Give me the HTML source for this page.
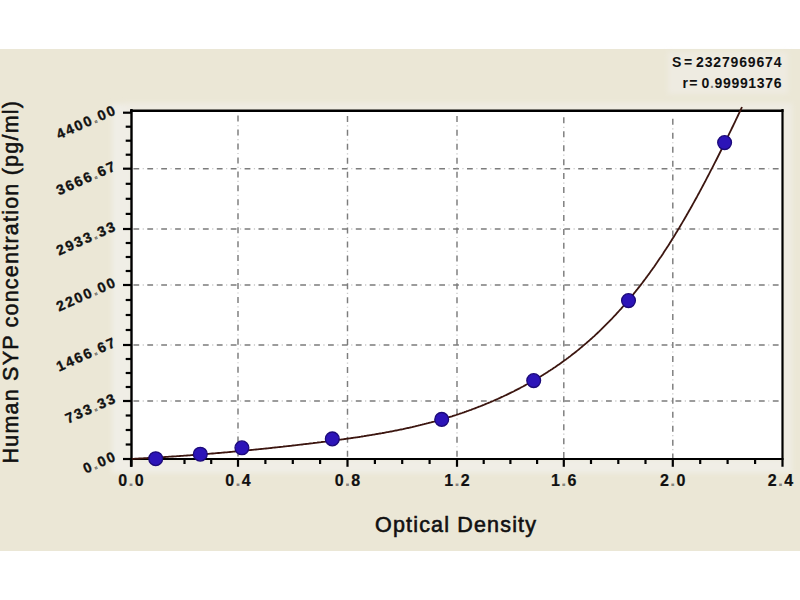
<!DOCTYPE html><html><head><meta charset="utf-8"><style>html,body{margin:0;padding:0;background:#fff;width:800px;height:600px;overflow:hidden}svg{display:block}text{font-family:"Liberation Sans",sans-serif}</style></head><body><svg width="800" height="600" viewBox="0 0 800 600"><rect x="0" y="49" width="800" height="502" fill="#EBE7D6"/><defs><filter id="sb" x="-20%" y="-20%" width="140%" height="140%"><feGaussianBlur stdDeviation="2.5"/></filter></defs><g filter="url(#sb)"><rect x="112" y="104" width="20" height="366" fill="#F0EEE6"/><rect x="112" y="459" width="680" height="14" fill="#F0EEE6"/><rect x="783" y="104" width="9" height="366" fill="#EFEDE4"/><rect x="124" y="103" width="668" height="8" fill="#EFECE3"/><rect x="668" y="52" width="120" height="42" fill="#EEEBE1"/></g><rect x="131" y="110" width="651.5" height="349" fill="#fff"/><g stroke="#7c7c7c" stroke-width="1.45" stroke-dasharray="5.8 8.1" fill="none"><line x1="133.4" y1="168.7" x2="781.5" y2="168.7"/><line x1="133.4" y1="229.0" x2="781.5" y2="229.0"/><line x1="133.4" y1="285.0" x2="781.5" y2="285.0"/><line x1="133.4" y1="345.0" x2="781.5" y2="345.0"/><line x1="133.4" y1="401.0" x2="781.5" y2="401.0"/></g><g stroke="#c8c8c8" stroke-width="1.3" stroke-dasharray="1.2 12.7" stroke-dashoffset="-9.25" fill="none"><line x1="133.4" y1="168.7" x2="781.5" y2="168.7"/><line x1="133.4" y1="229.0" x2="781.5" y2="229.0"/><line x1="133.4" y1="285.0" x2="781.5" y2="285.0"/><line x1="133.4" y1="345.0" x2="781.5" y2="345.0"/><line x1="133.4" y1="401.0" x2="781.5" y2="401.0"/></g><g stroke="#7c7c7c" stroke-width="1.45" stroke-dasharray="6.0 7.95" fill="none"><line x1="238" y1="115.6" x2="238" y2="459"/><line x1="347.5" y1="115.9" x2="347.5" y2="459"/><line x1="457" y1="115.9" x2="457" y2="459"/><line x1="563.8" y1="117.3" x2="563.8" y2="459"/><line x1="672.8" y1="118.8" x2="672.8" y2="459"/></g><g stroke="#c8c8c8" stroke-width="1.3" stroke-dasharray="1.2 12.75" stroke-dashoffset="-9.4" fill="none"><line x1="238" y1="115.6" x2="238" y2="459"/><line x1="347.5" y1="115.9" x2="347.5" y2="459"/><line x1="457" y1="115.9" x2="457" y2="459"/><line x1="563.8" y1="117.3" x2="563.8" y2="459"/><line x1="672.8" y1="118.8" x2="672.8" y2="459"/></g><g stroke="#000" stroke-width="2.2" fill="none"><line x1="131.5" y1="109" x2="131.5" y2="466.8" stroke-width="2.4"/><line x1="130" y1="110.7" x2="783.5" y2="110.7" stroke-width="2.4"/><line x1="782.5" y1="109" x2="782.5" y2="466.8"/><line x1="130" y1="459" x2="783.5" y2="459"/><line x1="123" y1="112.7" x2="131" y2="112.7"/><line x1="125.7" y1="126.7" x2="131" y2="126.7"/><line x1="125.7" y1="140.7" x2="131" y2="140.7"/><line x1="125.7" y1="154.7" x2="131" y2="154.7"/><line x1="123" y1="168.7" x2="131" y2="168.7"/><line x1="125.7" y1="183.8" x2="131" y2="183.8"/><line x1="125.7" y1="198.8" x2="131" y2="198.8"/><line x1="125.7" y1="213.9" x2="131" y2="213.9"/><line x1="123" y1="229.0" x2="131" y2="229.0"/><line x1="125.7" y1="243.0" x2="131" y2="243.0"/><line x1="125.7" y1="257.0" x2="131" y2="257.0"/><line x1="125.7" y1="271.0" x2="131" y2="271.0"/><line x1="123" y1="285.0" x2="131" y2="285.0"/><line x1="125.7" y1="300.0" x2="131" y2="300.0"/><line x1="125.7" y1="315.0" x2="131" y2="315.0"/><line x1="125.7" y1="330.0" x2="131" y2="330.0"/><line x1="123" y1="345.0" x2="131" y2="345.0"/><line x1="125.7" y1="359.0" x2="131" y2="359.0"/><line x1="125.7" y1="373.0" x2="131" y2="373.0"/><line x1="125.7" y1="387.0" x2="131" y2="387.0"/><line x1="123" y1="401.0" x2="131" y2="401.0"/><line x1="125.7" y1="415.5" x2="131" y2="415.5"/><line x1="125.7" y1="430.0" x2="131" y2="430.0"/><line x1="125.7" y1="444.5" x2="131" y2="444.5"/><line x1="123" y1="459.0" x2="131" y2="459.0"/><line x1="131.0" y1="459" x2="131.0" y2="466.8"/><line x1="157.8" y1="459" x2="157.8" y2="464"/><line x1="184.5" y1="459" x2="184.5" y2="464"/><line x1="211.2" y1="459" x2="211.2" y2="464"/><line x1="238.0" y1="459" x2="238.0" y2="466.8"/><line x1="265.4" y1="459" x2="265.4" y2="464"/><line x1="292.8" y1="459" x2="292.8" y2="464"/><line x1="320.1" y1="459" x2="320.1" y2="464"/><line x1="347.5" y1="459" x2="347.5" y2="466.8"/><line x1="374.9" y1="459" x2="374.9" y2="464"/><line x1="402.2" y1="459" x2="402.2" y2="464"/><line x1="429.6" y1="459" x2="429.6" y2="464"/><line x1="457.0" y1="459" x2="457.0" y2="466.8"/><line x1="483.7" y1="459" x2="483.7" y2="464"/><line x1="510.4" y1="459" x2="510.4" y2="464"/><line x1="537.1" y1="459" x2="537.1" y2="464"/><line x1="563.8" y1="459" x2="563.8" y2="466.8"/><line x1="591.0" y1="459" x2="591.0" y2="464"/><line x1="618.3" y1="459" x2="618.3" y2="464"/><line x1="645.5" y1="459" x2="645.5" y2="464"/><line x1="672.8" y1="459" x2="672.8" y2="466.8"/><line x1="700.2" y1="459" x2="700.2" y2="464"/><line x1="727.6" y1="459" x2="727.6" y2="464"/><line x1="755.1" y1="459" x2="755.1" y2="464"/></g><path d="M132.0,458.9 L133.0,458.8 L134.0,458.8 L135.0,458.7 L136.0,458.7 L137.0,458.6 L138.0,458.6 L139.0,458.5 L140.0,458.5 L141.0,458.4 L142.0,458.4 L143.0,458.3 L144.0,458.2 L145.0,458.2 L146.0,458.1 L147.0,458.1 L148.0,458.0 L149.0,458.0 L150.0,457.9 L151.0,457.9 L152.0,457.8 L153.0,457.7 L154.0,457.7 L155.0,457.6 L156.0,457.6 L157.0,457.5 L158.0,457.4 L159.0,457.4 L160.0,457.3 L161.0,457.2 L162.0,457.2 L163.0,457.1 L164.0,457.1 L165.0,457.0 L166.0,456.9 L167.0,456.9 L168.0,456.8 L169.0,456.7 L170.0,456.7 L171.0,456.6 L172.0,456.5 L173.0,456.5 L174.0,456.4 L175.0,456.3 L176.0,456.3 L177.0,456.2 L178.0,456.1 L179.0,456.1 L180.0,456.0 L181.0,455.9 L182.0,455.9 L183.0,455.8 L184.0,455.7 L185.0,455.6 L186.0,455.6 L187.0,455.5 L188.0,455.4 L189.0,455.3 L190.0,455.3 L191.0,455.2 L192.0,455.1 L193.0,455.0 L194.0,455.0 L195.0,454.9 L196.0,454.8 L197.0,454.7 L198.0,454.7 L199.0,454.6 L200.0,454.5 L201.0,454.4 L202.0,454.4 L203.0,454.3 L204.0,454.2 L205.0,454.1 L206.0,454.0 L207.0,454.0 L208.0,453.9 L209.0,453.8 L210.0,453.7 L211.0,453.6 L212.0,453.5 L213.0,453.5 L214.0,453.4 L215.0,453.3 L216.0,453.2 L217.0,453.1 L218.0,453.0 L219.0,453.0 L220.0,452.9 L221.0,452.8 L222.0,452.7 L223.0,452.6 L224.0,452.5 L225.0,452.4 L226.0,452.3 L227.0,452.3 L228.0,452.2 L229.0,452.1 L230.0,452.0 L231.0,451.9 L232.0,451.8 L233.0,451.7 L234.0,451.6 L235.0,451.5 L236.0,451.4 L237.0,451.3 L238.0,451.3 L239.0,451.2 L240.0,451.1 L241.0,451.0 L242.0,450.9 L243.0,450.8 L244.0,450.7 L245.0,450.6 L246.0,450.5 L247.0,450.4 L248.0,450.3 L249.0,450.2 L250.0,450.1 L251.0,450.0 L252.0,449.9 L253.0,449.8 L254.0,449.7 L255.0,449.6 L256.0,449.5 L257.0,449.4 L258.0,449.3 L259.0,449.2 L260.0,449.1 L261.0,449.0 L262.0,448.9 L263.0,448.8 L264.0,448.7 L265.0,448.6 L266.0,448.5 L267.0,448.4 L268.0,448.3 L269.0,448.2 L270.0,448.1 L271.0,448.0 L272.0,447.9 L273.0,447.7 L274.0,447.6 L275.0,447.5 L276.0,447.4 L277.0,447.3 L278.0,447.2 L279.0,447.1 L280.0,447.0 L281.0,446.9 L282.0,446.8 L283.0,446.7 L284.0,446.5 L285.0,446.4 L286.0,446.3 L287.0,446.2 L288.0,446.1 L289.0,446.0 L290.0,445.9 L291.0,445.8 L292.0,445.6 L293.0,445.5 L294.0,445.4 L295.0,445.3 L296.0,445.2 L297.0,445.1 L298.0,444.9 L299.0,444.8 L300.0,444.7 L301.0,444.6 L302.0,444.5 L303.0,444.4 L304.0,444.2 L305.0,444.1 L306.0,444.0 L307.0,443.9 L308.0,443.8 L309.0,443.6 L310.0,443.5 L311.0,443.4 L312.0,443.3 L313.0,443.2 L314.0,443.0 L315.0,442.9 L316.0,442.8 L317.0,442.7 L318.0,442.5 L319.0,442.4 L320.0,442.3 L321.0,442.2 L322.0,442.0 L323.0,441.9 L324.0,441.8 L325.0,441.7 L326.0,441.5 L327.0,441.4 L328.0,441.3 L329.0,441.1 L330.0,441.0 L331.0,440.9 L332.0,440.8 L333.0,440.6 L334.0,440.5 L335.0,440.4 L336.0,440.2 L337.0,440.1 L338.0,440.0 L339.0,439.8 L340.0,439.7 L341.0,439.6 L342.0,439.4 L343.0,439.3 L344.0,439.1 L345.0,439.0 L346.0,438.9 L347.0,438.7 L348.0,438.6 L349.0,438.4 L350.0,438.3 L351.0,438.1 L352.0,438.0 L353.0,437.9 L354.0,437.7 L355.0,437.6 L356.0,437.4 L357.0,437.3 L358.0,437.1 L359.0,437.0 L360.0,436.8 L361.0,436.7 L362.0,436.5 L363.0,436.3 L364.0,436.2 L365.0,436.0 L366.0,435.9 L367.0,435.7 L368.0,435.5 L369.0,435.4 L370.0,435.2 L371.0,435.1 L372.0,434.9 L373.0,434.7 L374.0,434.6 L375.0,434.4 L376.0,434.2 L377.0,434.0 L378.0,433.9 L379.0,433.7 L380.0,433.5 L381.0,433.3 L382.0,433.2 L383.0,433.0 L384.0,432.8 L385.0,432.6 L386.0,432.4 L387.0,432.2 L388.0,432.1 L389.0,431.9 L390.0,431.7 L391.0,431.5 L392.0,431.3 L393.0,431.1 L394.0,430.9 L395.0,430.7 L396.0,430.5 L397.0,430.3 L398.0,430.1 L399.0,429.9 L400.0,429.7 L401.0,429.5 L402.0,429.3 L403.0,429.1 L404.0,428.8 L405.0,428.6 L406.0,428.4 L407.0,428.2 L408.0,428.0 L409.0,427.8 L410.0,427.5 L411.0,427.3 L412.0,427.1 L413.0,426.8 L414.0,426.6 L415.0,426.4 L416.0,426.1 L417.0,425.9 L418.0,425.7 L419.0,425.4 L420.0,425.2 L421.0,424.9 L422.0,424.7 L423.0,424.4 L424.0,424.2 L425.0,423.9 L426.0,423.7 L427.0,423.4 L428.0,423.2 L429.0,422.9 L430.0,422.6 L431.0,422.4 L432.0,422.1 L433.0,421.8 L434.0,421.6 L435.0,421.3 L436.0,421.0 L437.0,420.7 L438.0,420.4 L439.0,420.2 L440.0,419.9 L441.0,419.6 L442.0,419.3 L443.0,419.0 L444.0,418.7 L445.0,418.4 L446.0,418.1 L447.0,417.8 L448.0,417.5 L449.0,417.2 L450.0,416.9 L451.0,416.6 L452.0,416.3 L453.0,415.9 L454.0,415.6 L455.0,415.3 L456.0,415.0 L457.0,414.6 L458.0,414.3 L459.0,414.0 L460.0,413.6 L461.0,413.3 L462.0,413.0 L463.0,412.6 L464.0,412.3 L465.0,411.9 L466.0,411.6 L467.0,411.2 L468.0,410.9 L469.0,410.5 L470.0,410.1 L471.0,409.8 L472.0,409.4 L473.0,409.0 L474.0,408.7 L475.0,408.3 L476.0,407.9 L477.0,407.5 L478.0,407.1 L479.0,406.7 L480.0,406.4 L481.0,406.0 L482.0,405.6 L483.0,405.2 L484.0,404.8 L485.0,404.3 L486.0,403.9 L487.0,403.5 L488.0,403.1 L489.0,402.7 L490.0,402.3 L491.0,401.8 L492.0,401.4 L493.0,401.0 L494.0,400.5 L495.0,400.1 L496.0,399.7 L497.0,399.2 L498.0,398.8 L499.0,398.3 L500.0,397.9 L501.0,397.4 L502.0,396.9 L503.0,396.5 L504.0,396.0 L505.0,395.5 L506.0,395.1 L507.0,394.6 L508.0,394.1 L509.0,393.6 L510.0,393.1 L511.0,392.6 L512.0,392.2 L513.0,391.7 L514.0,391.2 L515.0,390.6 L516.0,390.1 L517.0,389.6 L518.0,389.1 L519.0,388.6 L520.0,388.1 L521.0,387.5 L522.0,387.0 L523.0,386.5 L524.0,385.9 L525.0,385.4 L526.0,384.8 L527.0,384.3 L528.0,383.7 L529.0,383.2 L530.0,382.6 L531.0,382.1 L532.0,381.5 L533.0,380.9 L534.0,380.3 L535.0,379.8 L536.0,379.2 L537.0,378.6 L538.0,378.0 L539.0,377.4 L540.0,376.8 L541.0,376.2 L542.0,375.6 L543.0,374.9 L544.0,374.3 L545.0,373.7 L546.0,373.1 L547.0,372.4 L548.0,371.8 L549.0,371.1 L550.0,370.5 L551.0,369.8 L552.0,369.2 L553.0,368.5 L554.0,367.8 L555.0,367.2 L556.0,366.5 L557.0,365.8 L558.0,365.1 L559.0,364.4 L560.0,363.7 L561.0,363.0 L562.0,362.3 L563.0,361.6 L564.0,360.8 L565.0,360.1 L566.0,359.4 L567.0,358.6 L568.0,357.9 L569.0,357.1 L570.0,356.4 L571.0,355.6 L572.0,354.8 L573.0,354.0 L574.0,353.3 L575.0,352.5 L576.0,351.7 L577.0,350.9 L578.0,350.1 L579.0,349.3 L580.0,348.4 L581.0,347.6 L582.0,346.8 L583.0,345.9 L584.0,345.1 L585.0,344.2 L586.0,343.4 L587.0,342.5 L588.0,341.6 L589.0,340.8 L590.0,339.9 L591.0,339.0 L592.0,338.1 L593.0,337.2 L594.0,336.3 L595.0,335.3 L596.0,334.4 L597.0,333.5 L598.0,332.5 L599.0,331.6 L600.0,330.6 L601.0,329.7 L602.0,328.7 L603.0,327.7 L604.0,326.7 L605.0,325.7 L606.0,324.7 L607.0,323.7 L608.0,322.7 L609.0,321.7 L610.0,320.6 L611.0,319.6 L612.0,318.6 L613.0,317.5 L614.0,316.4 L615.0,315.4 L616.0,314.3 L617.0,313.2 L618.0,312.1 L619.0,311.0 L620.0,309.9 L621.0,308.8 L622.0,307.6 L623.0,306.5 L624.0,305.4 L625.0,304.2 L626.0,303.0 L627.0,301.9 L628.0,300.7 L629.0,299.5 L630.0,298.3 L631.0,297.1 L632.0,295.9 L633.0,294.7 L634.0,293.4 L635.0,292.2 L636.0,290.9 L637.0,289.7 L638.0,288.4 L639.0,287.1 L640.0,285.9 L641.0,284.6 L642.0,283.3 L643.0,281.9 L644.0,280.6 L645.0,279.3 L646.0,277.9 L647.0,276.6 L648.0,275.2 L649.0,273.9 L650.0,272.5 L651.0,271.1 L652.0,269.7 L653.0,268.3 L654.0,266.9 L655.0,265.4 L656.0,264.0 L657.0,262.6 L658.0,261.1 L659.0,259.6 L660.0,258.1 L661.0,256.7 L662.0,255.2 L663.0,253.7 L664.0,252.1 L665.0,250.6 L666.0,249.1 L667.0,247.5 L668.0,246.0 L669.0,244.4 L670.0,242.8 L671.0,241.2 L672.0,239.6 L673.0,238.0 L674.0,236.4 L675.0,234.8 L676.0,233.1 L677.0,231.5 L678.0,229.8 L679.0,228.2 L680.0,226.5 L681.0,224.8 L682.0,223.1 L683.0,221.4 L684.0,219.7 L685.0,218.0 L686.0,216.3 L687.0,214.5 L688.0,212.8 L689.0,211.0 L690.0,209.3 L691.0,207.5 L692.0,205.7 L693.0,203.9 L694.0,202.1 L695.0,200.3 L696.0,198.5 L697.0,196.7 L698.0,194.8 L699.0,193.0 L700.0,191.1 L701.0,189.3 L702.0,187.4 L703.0,185.5 L704.0,183.6 L705.0,181.8 L706.0,179.9 L707.0,177.9 L708.0,176.0 L709.0,174.1 L710.0,172.2 L711.0,170.2 L712.0,168.3 L713.0,166.4 L714.0,164.4 L715.0,162.4 L716.0,160.5 L717.0,158.5 L718.0,156.5 L719.0,154.5 L720.0,152.5 L721.0,150.5 L722.0,148.5 L723.0,146.5 L724.0,144.5 L725.0,142.4 L726.0,140.4 L727.0,138.3 L728.0,136.3 L729.0,134.2 L730.0,132.2 L731.0,130.1 L732.0,128.0 L733.0,126.0 L734.0,123.9 L735.0,121.8 L736.0,119.7 L737.0,117.6 L738.0,115.5 L739.0,113.4 L740.0,111.3 L741.0,109.2 L742.0,107.0" stroke="#3c1610" stroke-width="1.8" fill="none" stroke-linejoin="round"/><circle cx="155.7" cy="458.7" r="6.9" fill="#2c14b8" stroke="#1c0a7a" stroke-width="1.3"/><circle cx="200.3" cy="454.2" r="6.9" fill="#2c14b8" stroke="#1c0a7a" stroke-width="1.3"/><circle cx="241.9" cy="447.8" r="6.9" fill="#2c14b8" stroke="#1c0a7a" stroke-width="1.3"/><circle cx="332.3" cy="438.9" r="6.9" fill="#2c14b8" stroke="#1c0a7a" stroke-width="1.3"/><circle cx="441.7" cy="419.4" r="6.9" fill="#2c14b8" stroke="#1c0a7a" stroke-width="1.3"/><circle cx="533.7" cy="380.6" r="6.9" fill="#2c14b8" stroke="#1c0a7a" stroke-width="1.3"/><circle cx="628.5" cy="300.6" r="6.9" fill="#2c14b8" stroke="#1c0a7a" stroke-width="1.3"/><circle cx="724.6" cy="142.6" r="6.9" fill="#2c14b8" stroke="#1c0a7a" stroke-width="1.3"/><text x="0" y="0" transform="translate(118,113.2) rotate(-24)" text-anchor="end" font-size="14.2" font-weight="bold" fill="#111" stroke="#111" stroke-width="0.35" letter-spacing="1.9">4400<tspan fill-opacity="0.35">.</tspan>00</text><text x="0" y="0" transform="translate(118,169.2) rotate(-24)" text-anchor="end" font-size="14.2" font-weight="bold" fill="#111" stroke="#111" stroke-width="0.35" letter-spacing="1.9">3666<tspan fill-opacity="0.35">.</tspan>67</text><text x="0" y="0" transform="translate(118,229.5) rotate(-24)" text-anchor="end" font-size="14.2" font-weight="bold" fill="#111" stroke="#111" stroke-width="0.35" letter-spacing="1.9">2933<tspan fill-opacity="0.35">.</tspan>33</text><text x="0" y="0" transform="translate(118,285.5) rotate(-24)" text-anchor="end" font-size="14.2" font-weight="bold" fill="#111" stroke="#111" stroke-width="0.35" letter-spacing="1.9">2200<tspan fill-opacity="0.35">.</tspan>00</text><text x="0" y="0" transform="translate(118,345.5) rotate(-24)" text-anchor="end" font-size="14.2" font-weight="bold" fill="#111" stroke="#111" stroke-width="0.35" letter-spacing="1.9">1466<tspan fill-opacity="0.35">.</tspan>67</text><text x="0" y="0" transform="translate(118,401.5) rotate(-24)" text-anchor="end" font-size="14.2" font-weight="bold" fill="#111" stroke="#111" stroke-width="0.35" letter-spacing="1.9">733<tspan fill-opacity="0.35">.</tspan>33</text><text x="0" y="0" transform="translate(118,459.5) rotate(-24)" text-anchor="end" font-size="14.2" font-weight="bold" fill="#111" stroke="#111" stroke-width="0.35" letter-spacing="1.9">0<tspan fill-opacity="0.35">.</tspan>00</text><text x="131.8" y="485.8" text-anchor="middle" font-size="16" font-weight="bold" fill="#111" stroke="#111" stroke-width="0.2" letter-spacing="1.6">0<tspan fill-opacity="0.45">.</tspan>0</text><text x="238.8" y="485.8" text-anchor="middle" font-size="16" font-weight="bold" fill="#111" stroke="#111" stroke-width="0.2" letter-spacing="1.6">0<tspan fill-opacity="0.45">.</tspan>4</text><text x="348.3" y="485.8" text-anchor="middle" font-size="16" font-weight="bold" fill="#111" stroke="#111" stroke-width="0.2" letter-spacing="1.6">0<tspan fill-opacity="0.45">.</tspan>8</text><text x="457.8" y="485.8" text-anchor="middle" font-size="16" font-weight="bold" fill="#111" stroke="#111" stroke-width="0.2" letter-spacing="1.6">1<tspan fill-opacity="0.45">.</tspan>2</text><text x="564.5999999999999" y="485.8" text-anchor="middle" font-size="16" font-weight="bold" fill="#111" stroke="#111" stroke-width="0.2" letter-spacing="1.6">1<tspan fill-opacity="0.45">.</tspan>6</text><text x="673.5999999999999" y="485.8" text-anchor="middle" font-size="16" font-weight="bold" fill="#111" stroke="#111" stroke-width="0.2" letter-spacing="1.6">2<tspan fill-opacity="0.45">.</tspan>0</text><text x="781.3" y="485.8" text-anchor="middle" font-size="16" font-weight="bold" fill="#111" stroke="#111" stroke-width="0.2" letter-spacing="1.6">2<tspan fill-opacity="0.45">.</tspan>4</text><text x="375" y="532" font-size="21.5" fill="#111" stroke="#111" stroke-width="0.6" textLength="161" lengthAdjust="spacing">Optical Density</text><text transform="translate(18.3,282.3) rotate(-90)" text-anchor="middle" font-size="21.5" fill="#111" stroke="#111" stroke-width="0.55" textLength="362.5" lengthAdjust="spacing">Human SYP concentration (pg/ml)</text><text x="672" y="67" font-size="14" font-weight="bold" fill="#111">S</text><text x="684" y="67" font-size="14" font-weight="bold" fill="#111">=</text><text x="696" y="67" font-size="14" font-weight="bold" fill="#111" textLength="85.5" lengthAdjust="spacing">2327969674</text><text x="682.5" y="88" font-size="14" font-weight="bold" fill="#111" letter-spacing="1.2">r=</text><text x="701.5" y="88" font-size="14" font-weight="bold" fill="#111" textLength="80" lengthAdjust="spacing">0<tspan fill-opacity="0.5">.</tspan>99991376</text></svg></body></html>
